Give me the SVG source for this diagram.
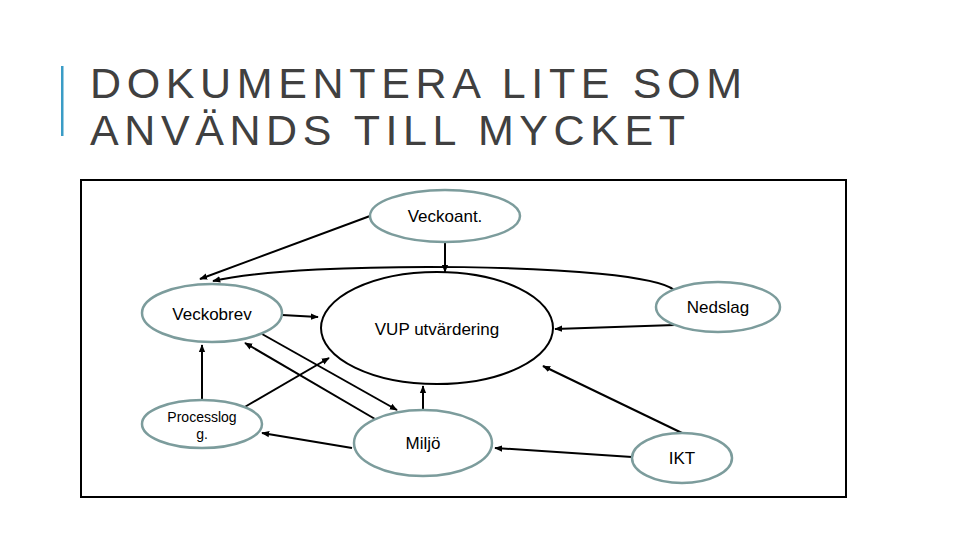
<svg xmlns="http://www.w3.org/2000/svg" width="960" height="540" viewBox="0 0 960 540">
<style>
.t{font-family:"Liberation Sans",Arial,sans-serif;fill:#404040;font-size:43px}
.n{fill:#fff;stroke:#7c9c9c;stroke-width:2.5}
.l{font-family:"Liberation Sans",Arial,sans-serif;font-size:17px;fill:#000;text-anchor:middle}
.c path{fill:none;stroke:#000;stroke-width:2;marker-end:url(#a)}
</style>
<defs><marker id="a" viewBox="0 0 10 10" refX="9" refY="5" markerWidth="4" markerHeight="4" orient="auto"><path d="M0,1L10,5L0,9z" fill="#000"/></marker></defs>
<rect width="960" height="540" fill="#fff"/>
<rect x="61" y="66" width="2.5" height="70" fill="#3a9cc6"/>
<text class="t" x="90" y="98" textLength="652">DOKUMENTERA LITE SOM</text>
<text class="t" x="90" y="145" textLength="595">ANVÄNDS TILL MYCKET</text>
<rect x="81" y="180" width="765" height="317" fill="none" stroke="#000" stroke-width="2"/>
<g class="c">
<path d="M370,216L200,279"/>
<path d="M445,242L445,272"/>
<path d="M674,290C640,262 300,260 213,281"/>
<path d="M282,315L318,317"/>
<path d="M262,334L397,410"/>
<path d="M375,419L245,343"/>
<path d="M243,408L329,358"/>
<path d="M202,400L202,345"/>
<path d="M352,448L262,433"/>
<path d="M423,410L423,386"/>
<path d="M675,325L555,329"/>
<path d="M682,433L543,366"/>
<path d="M632,457L495,448"/>
</g>
<g id="vup"><ellipse cx="437" cy="328" rx="116" ry="56" fill="#fff" stroke="#000" stroke-width="2"/><text class="l" x="437" y="335">VUP utvärdering</text></g>
<g id="veckoant"><ellipse class="n" cx="445" cy="216" rx="75" ry="26"/><text class="l" x="445" y="222">Veckoant.</text></g>
<g id="veckobrev"><ellipse class="n" cx="212" cy="313" rx="70" ry="29"/><text class="l" x="212" y="320">Veckobrev</text></g>
<g id="processlog"><ellipse class="n" cx="202" cy="424" rx="60" ry="24"/><text class="l" x="202" y="422" style="font-size:14px">Processlog</text><text class="l" x="202" y="439" style="font-size:14px">g.</text></g>
<g id="miljo"><ellipse class="n" cx="423" cy="443" rx="69" ry="33"/><text class="l" x="423" y="449">Miljö</text></g>
<g id="nedslag"><ellipse class="n" cx="718" cy="307" rx="62" ry="25"/><text class="l" x="718" y="313">Nedslag</text></g>
<g id="ikt"><ellipse class="n" cx="682" cy="458" rx="50" ry="25"/><text class="l" x="682" y="464">IKT</text></g>
</svg>
